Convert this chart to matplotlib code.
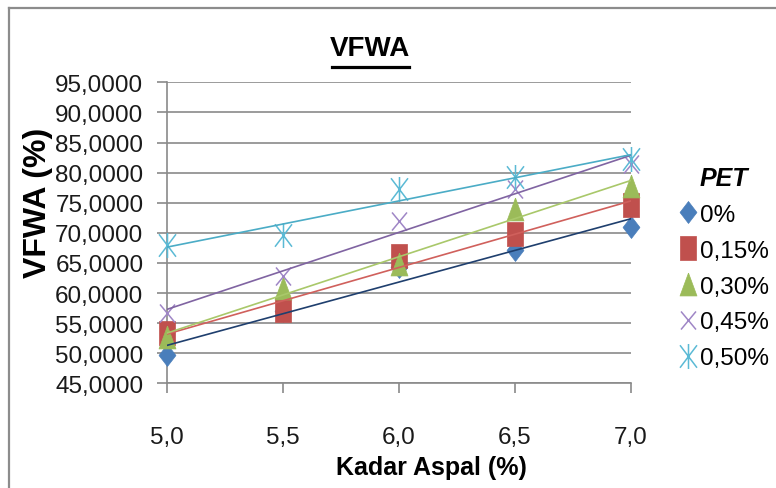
import numpy as np
import matplotlib
matplotlib.use("Agg")
import matplotlib.pyplot as plt
from matplotlib.path import Path
from matplotlib.lines import Line2D

plt.rcParams['font.family'] = ['Liberation Sans', 'DejaVu Sans']

kadar_aspal = [5.0, 5.5, 6.0, 6.5, 7.0]
pet_labels = ['0%', '0,15%', '0,30%', '0,45%', '0,50%']
vfwa_0 = [49.7, 57.0, 64.3, 67.2, 70.9]
vfwa_015 = [53.4, 57.1, 66.2, 69.8, 74.7]
vfwa_030 = [52.7, 60.8, 64.8, 74.0, 77.8]
vfwa_045 = [56.7, 62.9, 72.0, 77.3, 81.5]
vfwa_050 = [67.9, 69.7, 77.3, 79.3, 82.3]
y_ticks = [45, 50, 55, 60, 65, 70, 75, 80, 85, 90, 95]
x_ticks = [5.0, 5.5, 6.0, 6.5, 7.0]

# marker shapes (Excel look, a bit taller than wide)
diamond = [(0, 1), (0.77, 0), (0, -1), (-0.77, 0), (0, 1)]
square = [(-0.7, -1), (0.7, -1), (0.7, 1), (-0.7, 1), (-0.7, -1)]
triangle = [(0, 1), (0.74, -1), (-0.74, -1), (0, 1)]
cross = Path([(-0.83, -1), (0.83, 1), (-0.83, 1), (0.83, -1)],
             [Path.MOVETO, Path.LINETO, Path.MOVETO, Path.LINETO])
star = Path([(0, -1), (0, 1), (-0.68, -0.9), (0.68, 0.9), (-0.68, 0.9), (0.68, -0.9)],
            [Path.MOVETO, Path.LINETO, Path.MOVETO, Path.LINETO, Path.MOVETO, Path.LINETO])

series = [
    (vfwa_0, diamond, 15.8, '#4A7EBB', '#1F3F6E', True),
    (vfwa_015, square, 17.3, '#C0504D', '#D0605C', True),
    (vfwa_030, triangle, 16.5, '#9BBB59', '#A9C86A', True),
    (vfwa_045, cross, 13.0, '#9F86C6', '#8064A2', False),
    (vfwa_050, star, 18.0, '#5BBAD5', '#4BACC6', False),
]

fig = plt.figure(figsize=(7.76, 4.89), dpi=100)
ax = fig.add_axes([167 / 776, 104.7 / 489, 464 / 776, 301 / 489])

x = np.array(kadar_aspal)
for (vals, mk, ms, col, lcol, filled), lab in zip(series, pet_labels):
    if filled:
        ax.plot(x, vals, ls='none', marker=mk, ms=ms, mfc=col, mec=col,
                mew=0.5, label=lab, clip_on=False, zorder=3)
    else:
        ax.plot(x, vals, ls='none', marker=mk, ms=ms, mfc='none', mec=col,
                mew=1.1, label=lab, clip_on=False, zorder=3)
for vals, mk, ms, col, lcol, filled in series:
    k, b = np.polyfit(x, vals, 1)
    ax.plot(x[[0, -1]], k * x[[0, -1]] + b, color=lcol, lw=1.2, zorder=4)

ax.set_xlim(5.0, 7.0)
ax.set_ylim(45, 95)
ax.set_xticks(x_ticks)
ax.set_xticklabels([f"{v:.1f}".replace('.', ',') for v in x_ticks])
ax.set_yticks(y_ticks)
ax.set_yticklabels([f"{v:.4f}".replace('.', ',') for v in y_ticks])
ax.yaxis.grid(True, color='#8a8a8a', lw=1.2)
ax.set_axisbelow(True)
for s in ['top', 'right']:
    ax.spines[s].set_visible(False)
for s in ['left', 'bottom']:
    ax.spines[s].set_color('#8a8a8a')
    ax.spines[s].set_linewidth(1.2)
ax.tick_params(axis='y', direction='out', length=7, width=1.2, color='#8a8a8a',
               labelsize=17.5, pad=10, labelcolor='#1a1a1a')
ax.tick_params(axis='x', direction='out', length=7, width=1.2, color='#8a8a8a',
               labelsize=17.5, pad=24, labelcolor='#1a1a1a')

fig.text(38.5 / 776, 1 - 203 / 489, 'VFWA (%)', rotation=90, ha='center',
         va='center', fontsize=23, fontweight='bold')
fig.text(431 / 776, 1 - 468 / 489, 'Kadar Aspal (%)', ha='center', va='center',
         fontsize=18, fontweight='bold')
fig.text(370 / 776, 1 - 49 / 489, 'VFWA', ha='center', va='center',
         fontsize=20, fontweight='bold')
fig.add_artist(Line2D([332 / 776, 409 / 776], [1 - 68 / 489, 1 - 68 / 489],
                      color='black', lw=2.3))

# outer chart frame (only left and top visible)
fig.add_artist(Line2D([9 / 776, 9 / 776], [0, 1 - 8.5 / 489], color='#8c8c8c', lw=1.6))
fig.add_artist(Line2D([9 / 776, 1], [1 - 8.5 / 489, 1 - 8.5 / 489], color='#8c8c8c', lw=1.6))

leg = fig.legend(loc='upper left', bbox_to_anchor=(678 / 776, 1 - 167 / 489),
                 frameon=False, fontsize=17.5, title='PET', handlelength=0.8,
                 handletextpad=0.1, labelspacing=0.57, borderpad=0, borderaxespad=0,
                 title_fontproperties={'weight': 'bold', 'style': 'italic', 'size': 18})

fig.savefig('out.png', dpi=100)
